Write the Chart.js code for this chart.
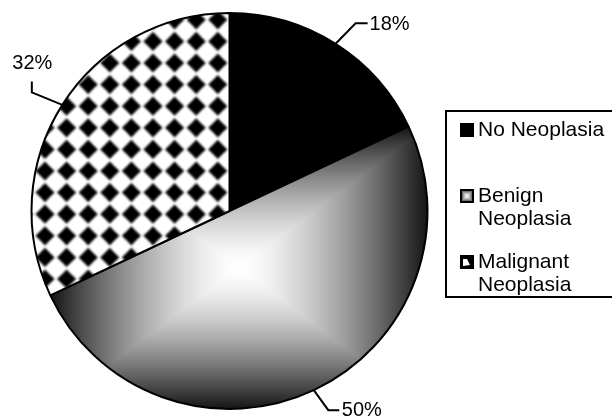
<!DOCTYPE html>
<html>
<head>
<meta charset="utf-8">
<script src="https://cdn.jsdelivr.net/npm/chart.js@4"></script>
<style>
  html, body { margin: 0; padding: 0; background: #fff; }
  #wrap { width: 612px; height: 417px; }
</style>
</head>
<body>
<div id="wrap"><canvas id="pie" width="612" height="417"></canvas></div>
<script>
// data
const categories = ['No Neoplasia', 'Benign Neoplasia', 'Malignant Neoplasia'];
const legendLines = [['No Neoplasia'], ['Benign', 'Neoplasia'], ['Malignant', 'Neoplasia']];
const percentValues = [18, 50, 32];
const percentLabels = ['18%', '50%', '32%'];

const W = 612, H = 417;
const FONT = '"Liberation Sans", Arial, sans-serif';

// grey of the "rectangle" gradient: white centre, dark edges
function shade(t) {
  t = Math.min(1, Math.max(0, t));
  return Math.round(255 - 235 * Math.pow(t, 1.5));
}

// box gradient covering the bounding box of one slice
function benignFill(arc) {
  const p = arc.getProps(['x', 'y', 'startAngle', 'endAngle', 'outerRadius']);
  const R = p.outerRadius;
  const pts = [[p.x, p.y],
    [p.x + R * Math.cos(p.startAngle), p.y + R * Math.sin(p.startAngle)],
    [p.x + R * Math.cos(p.endAngle), p.y + R * Math.sin(p.endAngle)]];
  const q = Math.PI / 2;
  for (let k = Math.ceil(p.startAngle / q); k * q <= p.endAngle; k++) {
    pts.push([p.x + R * Math.cos(k * q), p.y + R * Math.sin(k * q)]);
  }
  const xs = pts.map(a => a[0]), ys = pts.map(a => a[1]);
  const x0 = Math.min(...xs), x1 = Math.max(...xs), y0 = Math.min(...ys), y1 = Math.max(...ys);
  const cx = (x0 + x1) / 2, cy = (y0 + y1) / 2, hw = (x1 - x0) / 2, hh = (y1 - y0) / 2;

  const c = document.createElement('canvas');
  c.width = W; c.height = H;
  const g = c.getContext('2d');
  const img = g.createImageData(W, H);
  for (let y = 0; y < H; y++) {
    for (let x = 0; x < W; x++) {
      const t = Math.max(Math.abs(x + 0.5 - cx) / hw, Math.abs(y + 0.5 - cy) / hh);
      const v = shade(t);
      const i = (y * W + x) * 4;
      img.data[i] = img.data[i + 1] = img.data[i + 2] = v;
      img.data[i + 3] = 255;
    }
  }
  g.putImageData(img, 0, 0);
  return g.createPattern(c, 'no-repeat');
}

// black diamonds on white
function diamondFill(ctx) {
  const c = document.createElement('canvas');
  c.width = W; c.height = H;
  const g = c.getContext('2d');
  g.fillStyle = '#fff';
  g.fillRect(0, 0, W, H);
  g.filter = 'blur(0.9px)';
  g.fillStyle = '#000';
  const step = 21.6, r = 9.6, k = 4.6;
  for (let y = 63 - step * 3; y < H + step; y += step) {
    for (let x = 45 - step * 3; x < W + step; x += step) {
      g.beginPath();
      g.moveTo(x, y - r);
      g.quadraticCurveTo(x + k, y - k, x + r, y);
      g.quadraticCurveTo(x + k, y + k, x, y + r);
      g.quadraticCurveTo(x - k, y + k, x - r, y);
      g.quadraticCurveTo(x - k, y - k, x, y - r);
      g.fill();
    }
  }
  return ctx.createPattern(c, 'no-repeat');
}

// swap in the pattern fills once the slices have their geometry
const fillPlugin = {
  id: 'fills',
  beforeDatasetsDraw(chart) {
    const arcs = chart.getDatasetMeta(0).data;
    if (!chart.$fills) {
      chart.$fills = [null, benignFill(arcs[1]), diamondFill(chart.ctx)];
    }
    arcs.forEach((arc, i) => {
      if (chart.$fills[i]) {
        arc.options = Object.assign({}, arc.options, { backgroundColor: chart.$fills[i] });
      }
    });
  }
};

// leader lines + percentage labels
const leaders = [
  { elbow: [20, -20.5], end: [12, 0], text: [2, 7], align: 'left' },
  { elbow: [14.5, 20], end: [11, 0], text: [2.5, 6], align: 'left' },
  { elbow: [-30.5, -12.5], end: [0, -11], text: [0.5, -12], align: 'center' }
];
const labelPlugin = {
  id: 'leaderLabels',
  afterDatasetsDraw(chart) {
    const ctx = chart.ctx;
    const arcs = chart.getDatasetMeta(0).data;
    ctx.save();
    ctx.strokeStyle = '#000';
    ctx.lineWidth = 2;
    ctx.fillStyle = '#000';
    ctx.font = '20px ' + FONT;
    ctx.textBaseline = 'alphabetic';
    arcs.forEach((arc, i) => {
      const p = arc.getProps(['x', 'y', 'startAngle', 'endAngle', 'outerRadius']);
      const mid = (p.startAngle + p.endAngle) / 2;
      const ax = p.x + p.outerRadius * Math.cos(mid);
      const ay = p.y + p.outerRadius * Math.sin(mid);
      const L = leaders[i];
      const ex = ax + L.elbow[0], ey = ay + L.elbow[1];
      const tx = ex + L.end[0], ty = ey + L.end[1];
      ctx.beginPath();
      ctx.moveTo(ax, ay);
      ctx.lineTo(ex, ey);
      ctx.lineTo(tx, ty);
      ctx.stroke();
      ctx.textAlign = L.align;
      ctx.fillText(percentLabels[i], tx + L.text[0], ty + L.text[1]);
    });
    ctx.restore();
  }
};

// boxed legend on the right
function drawMarker(ctx, i, x, y, s) {
  if (i === 0) {
    ctx.fillStyle = '#000';
    ctx.fillRect(x, y, s, s);
  } else if (i === 1) {
    for (let k = 0; k < s / 2; k++) {
      const v = shade(1 - k / (s / 2));
      ctx.fillStyle = 'rgb(' + v + ',' + v + ',' + v + ')';
      ctx.fillRect(x + k, y + k, s - 2 * k, s - 2 * k);
    }
    ctx.strokeStyle = '#000';
    ctx.lineWidth = 2;
    ctx.strokeRect(x + 1, y + 1, s - 2, s - 2);
  } else {
    ctx.fillStyle = '#000';
    ctx.fillRect(x, y, s, s);
    ctx.fillStyle = '#fff';
    ctx.beginPath();
    ctx.moveTo(x + 3, y + 4);
    ctx.lineTo(x + 7, y + 4);
    ctx.lineTo(x + 10, y + 10);
    ctx.lineTo(x + 3, y + 11);
    ctx.closePath();
    ctx.fill();
  }
}
const legendPlugin = {
  id: 'boxLegend',
  afterDraw(chart) {
    const ctx = chart.ctx;
    ctx.save();
    ctx.strokeStyle = '#000';
    ctx.lineWidth = 2;
    ctx.strokeRect(446, 111, 200, 186);
    const mids = [130, 196, 262];
    ctx.font = '21px ' + FONT;
    ctx.textAlign = 'left';
    ctx.textBaseline = 'middle';
    legendLines.forEach((lines, i) => {
      drawMarker(ctx, i, 460, mids[i] - 7, 14);
      ctx.fillStyle = '#000';
      lines.forEach((t, j) => ctx.fillText(t, 478, mids[i] + j * 23));
    });
    ctx.restore();
  }
};

new Chart(document.getElementById('pie'), {
  type: 'pie',
  data: {
    labels: categories,
    datasets: [{
      data: percentValues,
      backgroundColor: ['#000', '#bbb', '#fff'],
      borderColor: '#000',
      borderWidth: 2
    }]
  },
  options: {
    responsive: false,
    animation: false,
    events: [],
    layout: { padding: { left: 30.5, right: 183.5, top: 12, bottom: 7 } },
    plugins: { legend: { display: false }, tooltip: { enabled: false } }
  },
  plugins: [fillPlugin, labelPlugin, legendPlugin]
});
</script>
</body>
</html>
